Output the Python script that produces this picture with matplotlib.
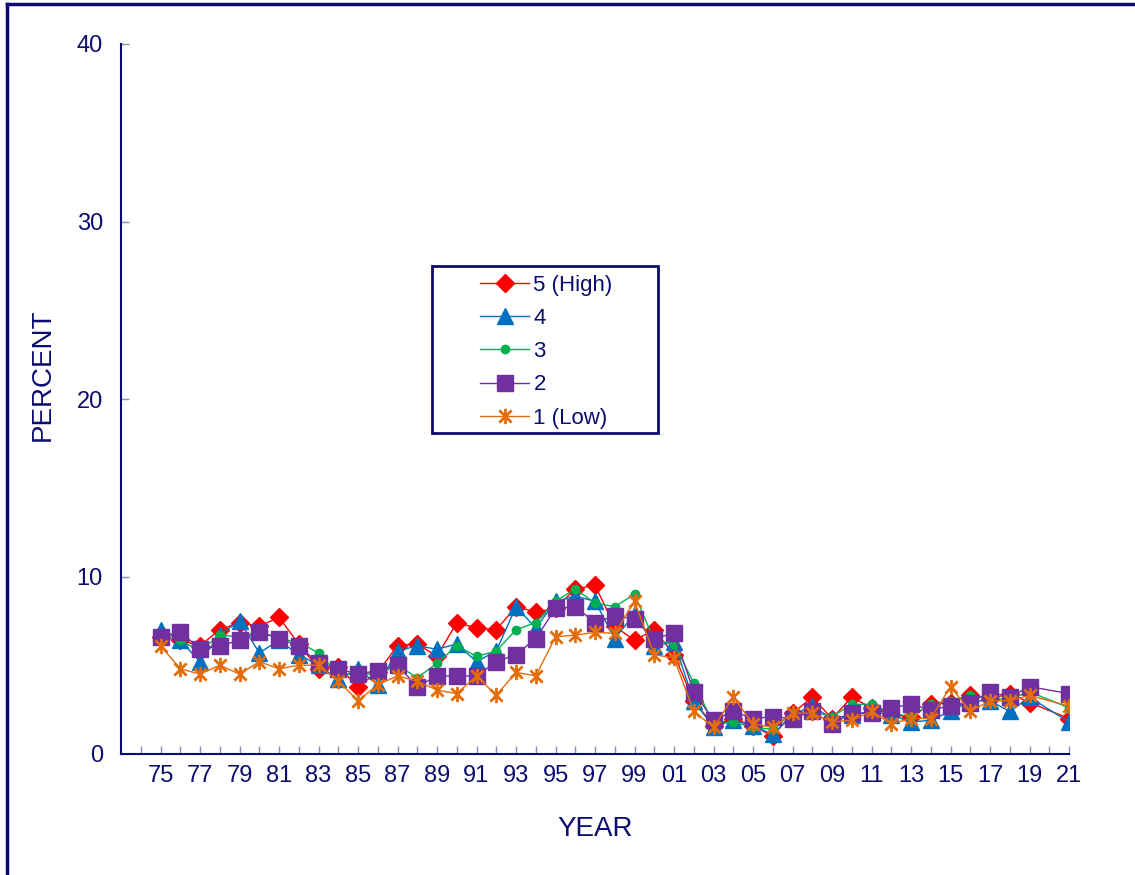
import matplotlib
matplotlib.use("Agg")
import matplotlib.pyplot as plt
from matplotlib.path import Path
from matplotlib.patches import Rectangle
from matplotlib.lines import Line2D

plt.rcParams['font.family'] = ['Liberation Sans', 'DejaVu Sans']

NAVY = '#0c0c6e'
TICKC = '#8c8cc0'

# 2020 is missing in the source, lines run straight from 2019 to 2021
years = list(range(1975, 2020)) + [2021]

high5 = [6.6, 6.4, 6.1, 7.0, 7.4, 7.2, 7.7, 6.2, 4.8, 4.9, 3.8, 4.6,
         6.1, 6.2, 5.5, 7.4, 7.1, 7.0, 8.3, 8.0, 8.2, 9.3, 9.5,
         7.2, 6.4, 7.0, 5.6, 3.0, 1.6, 2.0, 1.6, 1.0, 2.3, 3.2, 2.0,
         3.2, 2.6, 2.2, 2.1, 2.8, 2.9, 3.3, 3.1, 3.4, 2.9, 2.0]
q4 = [7.0, 6.4, 5.2, 6.7, 7.5, 5.7, 6.4, 5.6, 5.0, 4.2, 4.8, 3.9,
      5.8, 6.1, 5.9, 6.2, 5.2, 5.8, 8.3, 7.1, 8.6, 8.9, 8.6,
      6.5, 7.9, 6.1, 6.3, 3.0, 1.5, 1.9, 1.6, 1.1, 2.2, 2.7, 2.0,
      2.2, 2.4, 2.2, 1.8, 1.9, 2.4, 3.0, 3.0, 2.4, 3.2, 1.8]
q3 = [6.6, 6.4, 5.8, 6.7, 6.6, 6.9, 6.5, 6.3, 5.7, 4.5, 4.5, 4.5,
      5.0, 4.3, 5.1, 6.1, 5.5, 5.8, 7.0, 7.4, 8.6, 9.3, 8.5,
      8.3, 9.0, 6.4, 6.2, 4.0, 1.7, 1.8, 1.5, 1.4, 2.3, 2.4, 2.1,
      2.8, 2.8, 2.3, 2.1, 2.8, 3.0, 3.3, 3.1, 3.1, 3.5, 2.6]
q2 = [6.6, 6.9, 5.9, 6.1, 6.4, 6.9, 6.5, 6.1, 5.1, 4.8, 4.5, 4.7,
      5.0, 3.8, 4.4, 4.4, 4.4, 5.2, 5.6, 6.5, 8.2, 8.3, 7.4,
      7.8, 7.6, 6.5, 6.8, 3.5, 1.9, 2.4, 2.0, 2.1, 2.0, 2.4, 1.7,
      2.3, 2.3, 2.6, 2.8, 2.5, 2.7, 2.9, 3.5, 3.2, 3.8, 3.4]
low1 = [6.1, 4.8, 4.5, 5.0, 4.5, 5.2, 4.8, 5.0, 5.0, 4.1, 3.0, 3.9,
        4.4, 4.1, 3.6, 3.4, 4.4, 3.3, 4.6, 4.4, 6.6, 6.7, 6.85,
        6.8, 8.6, 5.6, 5.4, 2.4, 1.5, 3.2, 1.7, 1.5, 2.3, 2.3, 1.8,
        1.9, 2.4, 1.7, 2.0, 2.0, 3.8, 2.4, 3.0, 3.0, 3.3, 2.7]

labels = ['5 (High)', '4', '3', '2', '1 (Low)']
colors = ['#ff0000', '#0070c0', '#00b050', '#7030a0', '#e46c0a']

# asterisk: vertical bar plus an x
star = Path([(0, -1), (0, 1), (-0.8, -0.8), (0.8, 0.8), (-0.8, 0.8), (0.8, -0.8)],
            [Path.MOVETO, Path.LINETO, Path.MOVETO, Path.LINETO, Path.MOVETO, Path.LINETO])

fig = plt.figure(figsize=(11.35, 8.75), dpi=100)
ax = fig.add_axes([121 / 1135, 121 / 875, 948 / 1135, 710 / 875])

series = [high5, q4, q3, q2, low1]
marks = [dict(marker='D', ms=9), dict(marker='^', ms=11), dict(marker='o', ms=6),
         dict(marker='s', ms=11), dict(marker=star, ms=11, mew=2)]
for vals, lab, col, mk in zip(series, labels, colors, marks):
    ax.plot(years, vals, color=col, lw=1, label=lab, mfc=col, mec=col, **mk)

ax.set_xlim(1973, 2021)
ax.set_ylim(0, 40)
ax.set_yticks([0, 10, 20, 30, 40])
ax.set_xticks(range(1974, 2022))
ax.set_xticklabels(['' if y % 2 == 0 else '%02d' % (y % 100) for y in range(1974, 2022)])

ax.tick_params(axis='both', direction='in', length=6, width=1, color=TICKC,
               labelcolor=NAVY, labelsize=17)
ax.tick_params(axis='x', pad=8)
ax.tick_params(axis='y', pad=13)
for s in ['top', 'right']:
    ax.spines[s].set_visible(False)
for s in ['left', 'bottom']:
    ax.spines[s].set_color(NAVY)
    ax.spines[s].set_linewidth(1.5)

ax.set_xlabel('YEAR', fontsize=20, color=NAVY, labelpad=21)
ax.set_ylabel('PERCENT', fontsize=20, color=NAVY)
ax.yaxis.set_label_coords(-0.069, 0.534)

leg = ax.legend(loc='upper left', bbox_to_anchor=(0.36, 0.70), frameon=False,
                fontsize=16, labelspacing=0.55, handlelength=2.2, handletextpad=0.2,
                borderpad=0.3)
for t in leg.get_texts():
    t.set_color(NAVY)
ax.add_patch(Rectangle((0.328, 0.452), 0.238, 0.235, transform=ax.transAxes,
                       fill=False, ec=NAVY, lw=2, zorder=5))

# outer chart border (only top and left are inside the picture)
fig.add_artist(Line2D([7 / 1135, 7 / 1135], [0, 871 / 875], color=NAVY, lw=2.5))
fig.add_artist(Line2D([7 / 1135, 1], [871 / 875, 871 / 875], color=NAVY, lw=2.5))

fig.savefig('out.png', dpi=100)
